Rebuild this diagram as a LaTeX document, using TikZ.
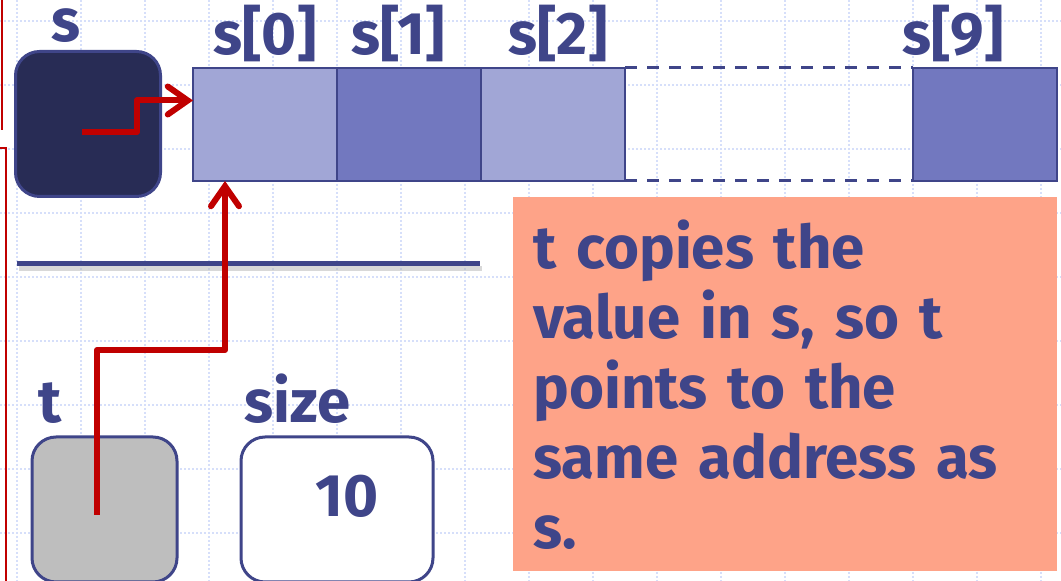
\documentclass[tikz,border=0pt]{standalone}
\usepackage{fontspec}
\setmainfont{Fira Sans}
\usepackage{tikz}
\usetikzlibrary{arrows.meta,positioning}
\usepackage{xcolor}
\definecolor{memInk}{HTML}{3F4589}
\definecolor{memNavy}{HTML}{282C55}
\definecolor{memLight}{HTML}{A1A6D6}
\definecolor{memDark}{HTML}{7278BF}
\definecolor{memGray}{HTML}{BEBEBE}
\definecolor{memRed}{HTML}{C00000}
\definecolor{memSalmon}{HTML}{FEA388}
\definecolor{memGrid}{HTML}{D6DFFA}

\begin{document}
\begin{tikzpicture}[x=0.5pt, y=-0.5pt,
  grid/.style={memGrid, line width=1.4pt, dash pattern=on 1pt off 1pt},
  mem/.style={draw=memInk, line width=1.5pt, rounded corners=12pt, minimum width=72.5pt, minimum height=72.5pt, inner sep=0pt},
  cell/.style={draw=memInk, line width=1.3pt, minimum width=72pt, minimum height=56.5pt, inner sep=0pt, outer sep=0pt},
  ptr/.style={-{Straight Barb[length=10pt, width=14pt, line cap=round]}, memRed, line width=3pt, line join=round},
  lbl/.style={font=\fontsize{30}{36}\selectfont\bfseries, text=memInk, anchor=base, inner sep=0pt},
  note/.style={fill=memSalmon, anchor=north west, minimum width=272pt, minimum height=187pt, text width=252pt, inner xsep=10pt, align=left, font=\fontsize{30}{35}\selectfont\bfseries, text=memInk}]
\useasboundingbox (0,0) rectangle (1061,581);
% background grid
\foreach \x in {17,81,...,1041} \draw[grid] (\x,0) -- (\x,581);
\foreach \y in {21,85,...,533} \draw[grid] (0,\y) -- (1061,\y);
% frame edges on the left
\draw[memRed, line width=1pt] (2,0) -- (2,130);
\draw[memRed, line width=1pt] (0,148) -- (6,148) -- (6,581);
% pointer s and the array
\node[mem, fill=memNavy] (sbox) at (88,124) {};
\node[lbl] (slbl) at (66,42) {s};
\node[cell, fill=memLight] (c0) at (265,124.5) {};
\node[cell, fill=memDark, right=0pt of c0] (c1) {};
\node[cell, fill=memLight, right=0pt of c1] (c2) {};
\node[cell, fill=memDark, right=144pt of c2] (c9) {};
\draw[memInk, line width=1.5pt, dash pattern=on 6pt off 5pt] (c2.north east) -- (c9.north west);
\draw[memInk, line width=1.5pt, dash pattern=on 6pt off 5pt] (c2.south east) -- (c9.south west);
\node[lbl] (l0) at (265,55) {s[0]};
\node[lbl] (l1) at (398,55) {s[1]};
\node[lbl] (l2) at (558,55) {s[2]};
\node[lbl] (l9) at (953,55) {s[9]};
% separator
\draw[black!30, line width=2.5pt, opacity=0.5] (19,269) -- (482,269);
\draw[memInk, line width=2.5pt] (17,264) -- (480,264);
% t and size
\node[mem, fill=memGray] (tbox) at (104.5,509.5) {};
\node[lbl] (tlbl) at (50,423) {t};
\node[mem, fill=white, minimum width=96pt] (sizebox) at (337,509.5) {};
\node[lbl] (slbl2) at (298,423) {size};
\node[lbl, anchor=center] (val) at (347,496) {10};
% pointers
\coordinate (sptr) at (82,132);
\coordinate (tptr) at (97,515);
\draw[ptr] (sptr) -- ++(55,0) |- ([yshift=12pt]c0.west);
\draw[ptr] (tptr) -- ++(0,-165) -| ([xshift=-20pt]c0.south);
% explanation
\node[note] (expl) at (513,197) {t copies the\\value in s, so t\\points to the\\same address as\\s.};
\end{tikzpicture}
\end{document}
